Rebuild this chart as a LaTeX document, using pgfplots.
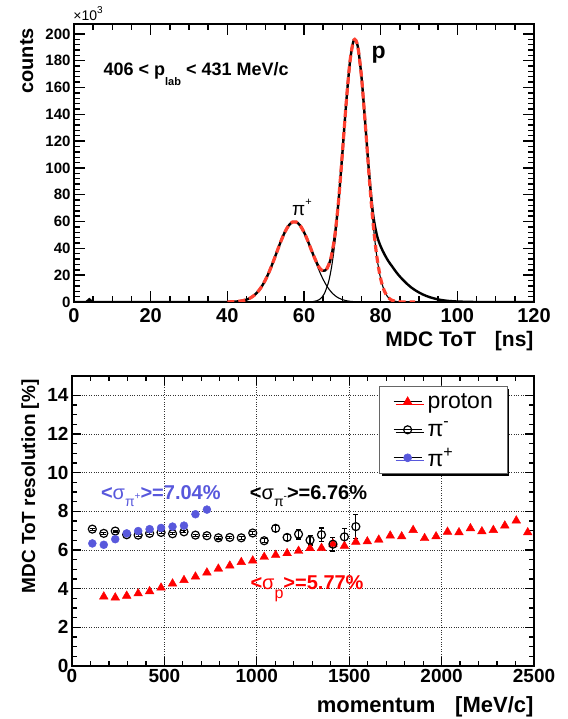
\documentclass[border=0pt]{standalone}
\usepackage{fontspec}
\setmainfont{Liberation Sans}
\usepackage{pgfplots}
\pgfplotsset{compat=1.18}
\usetikzlibrary{shadows}
\definecolor{fitred}{RGB}{255,64,48}
\definecolor{piblue}{RGB}{88,88,220}
\definecolor{pred}{RGB}{255,0,0}
\pgfplotsset{linemark legend/.style={legend image code/.code={%
  \draw[black,line width=0.7pt] (0pt,0pt)--(28pt,0pt);
  \draw[mark repeat=2,mark phase=2,##1] plot coordinates {(0pt,0pt) (14pt,0pt) (28pt,0pt)};}}}

\begin{document}
\begin{tikzpicture}
\useasboundingbox (0,0) rectangle (567pt,719pt);

% ---------------- top panel ----------------
\begin{axis}[
  at={(74pt,417pt)}, anchor=south west,
  scale only axis, width=460pt, height=277.5pt,
  xmin=0, xmax=120, ymin=0, ymax=207,
  xtick={0,20,...,120}, ytick={0,20,...,200},
  minor x tick num=3, minor y tick num=4,
  clip mode=individual,
  axis line style={line width=2pt},
  every tick/.style={black, line width=1.4pt},
  major tick length=11pt, minor tick length=6pt,
  tick align=inside,
  scaled ticks=false,
  /pgf/number format/assume math mode=true,
  /pgf/number format/1000 sep={},
  xticklabel style={font=\fontsize{20}{20}\selectfont\bfseries, yshift=-3pt},
  yticklabel style={font=\fontsize{15}{15}\selectfont\bfseries},
  xlabel={MDC ToT\hspace{0.9em}[ns]}, ylabel={counts},
  xlabel style={at={(axis description cs:1.0065,-0.162)}, anchor=base east, font=\fontsize{21}{21}\selectfont\bfseries},
  ylabel style={at={(axis description cs:-0.089,1)}, anchor=base east, font=\fontsize{20}{20}\selectfont\bfseries},
]
% data (thick black), baseline part
\addplot[black, line width=2.4pt] coordinates {(0,0) (3.2,0) (4,2) (4.8,0) (40,0)};
% data (thick black), peaks and tail
\addplot[black, line width=2.4pt, smooth, tension=0.5] coordinates {
(40,0.06) (41,0.13) (42,0.26) (43,0.52) (44,0.97) (45,1.75) (46,3.01) (47,4.96) (48,7.79) (49,11.70)
(50,16.81) (51,23.07) (52,30.26) (53,37.95) (54,45.48) (55,52.09) (56,57.02) (57,59.66) (58,59.66)
(59,57.02) (60,52.10) (61,45.53) (62,38.2) (63,31.3) (64,25.5) (64.5,24.0) (65,23.3) (65.5,23.5)
(66,25.0) (67,32.5) (68,48.5) (69,75.11) (70,110.55) (71,148.27) (72,179.42) (73,195.36) (74,191.03)
(75,167.76) (76,132.5) (77,95.5) (78,66) (79,50) (80,41.5) (81,35.5) (82,30.5) (83,26.5) (84,22.5) (85,19)
(86,16) (87,13.2) (88,10.8) (89,8.8) (90,7.1) (91,5.6) (92,4.4) (93,3.4) (94,2.6) (95,1.9) (96,1.4)
(97,1.0) (98,0.7) (100,0.35) (103,0.1) (106,0) (120,0)};
% pion component (thin)
\addplot[black, line width=1.1pt, smooth, tension=0.5] coordinates {
(40,0.06) (41,0.13) (42,0.26) (43,0.52) (44,0.97) (45,1.75) (46,3.01) (47,4.96) (48,7.79) (49,11.70)
(50,16.81) (51,23.07) (52,30.26) (53,37.95) (54,45.48) (55,52.09) (56,57.02) (57,59.66) (57.5,60)
(58,59.66) (59,57.02) (60,52.09) (61,45.48) (62,37.95) (63,30.26) (64,23.07) (65,16.81) (66,11.70)
(67,7.79) (68,4.96) (69,3.01) (70,1.75) (71,0.97) (72,0.52) (73,0.26) (74,0.13) (75,0.06) (77,0)};
% proton component (thin)
\addplot[black, line width=1.1pt, smooth, tension=0.5] coordinates {
(60.3,0) (61.3,0.08) (62.3,0.28) (63.3,0.88) (64.3,2.46) (65.3,6.17) (66.3,13.9) (66.8,20.0) (67.3,28.0)
(67.8,38.2) (68.3,50.7) (68.8,65.6) (69.3,82.5) (69.8,101.1) (70.3,120.5) (70.8,139.8) (71.3,157.9)
(71.8,173.6) (72.3,185.7) (72.8,193.4) (73.3,196) (73.8,193.4) (74.3,185.7) (74.8,173.6) (75.3,157.9)
(75.8,139.8) (76.3,120.5) (76.8,101.1) (77.3,82.5) (77.8,65.6) (78.3,50.7) (78.8,38.2) (79.3,28.0)
(79.8,20.0) (80.3,13.9) (81.3,6.17) (82.3,2.46) (83.3,0.88) (84.3,0.28) (85.3,0.08) (86.3,0)};
% fit (red dashed)
\addplot[fitred, line width=3.2pt, dash pattern=on 7pt off 4pt, smooth, tension=0.5] coordinates {
(40,0.06) (41,0.13) (42,0.26) (43,0.52) (44,0.97) (45,1.75) (46,3.01) (47,4.96) (48,7.79) (49,11.70)
(50,16.81) (51,23.07) (52,30.26) (53,37.95) (54,45.48) (55,52.09) (56,57.02) (57,59.66) (58,59.66)
(59,57.02) (60,52.10) (61,45.53) (62,38.2) (63,31.3) (64,25.5) (64.5,24.0) (65,23.3) (65.5,23.5)
(66,25.0) (67,32.5) (68,48.5) (69,75.11) (70,110.55) (71,148.27) (72,179.42) (73,195.36) (74,191.03)
(75,167.76) (76,132.2) (77,93.5) (78,59.4) (79,33.9) (80,17.3) (81,7.95) (82,3.28) (83,1.21) (84,0.40)
(85,0.12) (86,0.03) (87,0) (89,0)};

\node[anchor=base west, font=\fontsize{18}{18}\selectfont\bfseries] at (axis cs:6.8,168.7)
  {406 < p\raisebox{-0.55em}{\fontsize{11}{11}\selectfont lab} < 431 MeV/c};
\node[anchor=base west, font=\fontsize{23}{23}\selectfont\bfseries] at (axis cs:76.7,181.3) {p};
\node[anchor=base west, font=\fontsize{19}{19}\selectfont] at (axis cs:56.0,64.5)
  {π\raisebox{0.55em}{\fontsize{11}{11}\selectfont +}};
\node[anchor=base west, font=\fontsize{14}{14}\selectfont] at (axis description cs:-0.009,1.016)
  {×10\raisebox{0.5em}{\fontsize{10}{10}\selectfont 3}};
\end{axis}

% ---------------- bottom panel ----------------
\begin{axis}[
  at={(72pt,53pt)}, anchor=south west,
  scale only axis, width=462pt, height=290pt,
  xmin=0, xmax=2500, ymin=0, ymax=15,
  xtick={0,500,...,2500}, ytick={0,2,...,14},
  minor x tick num=4, minor y tick num=3,
  axis line style={line width=1.6pt},
  every tick/.style={black, line width=1.2pt},
  major tick length=9pt, minor tick length=5pt,
  tick align=inside,
  grid=major, major grid style={black!80, dotted, line width=0.7pt},
  scaled ticks=false,
  /pgf/number format/assume math mode=true,
  /pgf/number format/1000 sep={},
  ticklabel style={font=\fontsize{19}{19}\selectfont\bfseries},
  xlabel={momentum\hspace{0.9em}[MeV/c]}, ylabel={MDC ToT resolution [\%]},
  xlabel style={at={(axis description cs:1.0065,-0.159)}, anchor=base east, font=\fontsize{22}{22}\selectfont\bfseries},
  ylabel style={at={(axis description cs:-0.080,1)}, anchor=base east, font=\fontsize{19}{19}\selectfont\bfseries},
  legend style={at={(axis description cs:0.6645,0.9655)}, anchor=north west,
    draw=black!60, line width=0.6pt, fill=white,
    drop shadow={shadow xshift=2.2pt, shadow yshift=-2.2pt, fill=black, opacity=1},
    font=\fontsize{23}{23}\selectfont, inner xsep=14pt, inner ysep=1.5pt, row sep=0pt, column sep=5.6pt,
    nodes={inner sep=0pt, minimum height=28pt}},
  legend cell align=left,
]
\addplot[only marks, mark=triangle*, mark size=5pt, color=pred, linemark legend]
coordinates {
(172,3.59) (234,3.54) (296,3.63) (358,3.75) (420,3.86) (482,4.05) (544,4.26) (606,4.44) (668,4.62)
(730,4.83) (792,5.03) (854,5.19) (916,5.37) (978,5.45) (1040,5.64) (1102,5.74) (1164,5.83) (1226,5.95)
(1288,6.09) (1350,6.10) (1412,6.32) (1474,6.21) (1536,6.42) (1598,6.44) (1660,6.53) (1722,6.74)
(1784,6.70) (1846,7.03) (1908,6.61) (1970,6.70) (2032,6.94) (2094,6.91) (2156,7.12) (2218,6.96)
(2280,7.03) (2342,7.26) (2404,7.52) (2466,6.91)};
\addlegendentry{proton}
\addplot[only marks, mark=o, mark size=4pt, color=black, mark options={line width=1.2pt}, linemark legend,
  error bars/.cd, y dir=both, y explicit,
  error bar style={line width=1.1pt}, error mark options={rotate=90, mark size=2.5pt, line width=1.1pt}]
coordinates {
(110,7.08) +- (0,0.05) (172,6.86) +- (0,0.05) (234,6.98) +- (0,0.05) (296,6.79) +- (0,0.05)
(358,6.77) +- (0,0.05) (420,6.86) +- (0,0.05) (482,6.91) +- (0,0.05) (544,6.84) +- (0,0.05)
(606,6.94) +- (0,0.05) (668,6.77) +- (0,0.05) (730,6.74) +- (0,0.05) (792,6.63) +- (0,0.06)
(854,6.65) +- (0,0.06) (916,6.63) +- (0,0.07) (978,6.88) +- (0,0.08) (1040,6.48) +- (0,0.1)
(1102,7.12) +- (0,0.17) (1164,6.65) +- (0,0.17) (1226,6.82) +- (0,0.25) (1288,6.51) +- (0,0.25)
(1350,6.79) +- (0,0.35) (1412,6.30) +- (0,0.35) (1474,6.68) +- (0,0.45) (1536,7.21) +- (0,0.62)};
\addlegendentry{π\textsuperscript{-}}
\addplot[only marks, mark=*, mark size=4pt, color=piblue, linemark legend]
coordinates {
(110,6.34) (172,6.27) (234,6.56) (296,6.86) (358,6.98) (420,7.08) (482,7.14) (544,7.21) (606,7.26)
(668,7.85) (730,8.09)};
\addlegendentry{π\textsuperscript{+}}

\node[anchor=base west, text=piblue, font=\fontsize{20}{20}\selectfont\bfseries] at (axis cs:138,8.6)
  {<{\mdseries σ}\raisebox{-0.33em}{\fontsize{14}{14}\selectfont\mdseries π\raisebox{0.5em}{\fontsize{10}{10}\selectfont +}}>=7.04\%};
\node[anchor=base west, text=black, font=\fontsize{20}{20}\selectfont\bfseries] at (axis cs:944,8.6)
  {<{\mdseries σ}\raisebox{-0.33em}{\fontsize{14}{14}\selectfont\mdseries π\raisebox{0.5em}{\fontsize{10}{10}\selectfont -}}>=6.76\%};
\node[anchor=base west, text=pred, font=\fontsize{20}{20}\selectfont\bfseries] at (axis cs:947,3.95)
  {<{\mdseries σ}\raisebox{-0.45em}{\fontsize{16}{16}\selectfont\mdseries p}>=5.77\%};
\end{axis}
\end{tikzpicture}
\end{document}
